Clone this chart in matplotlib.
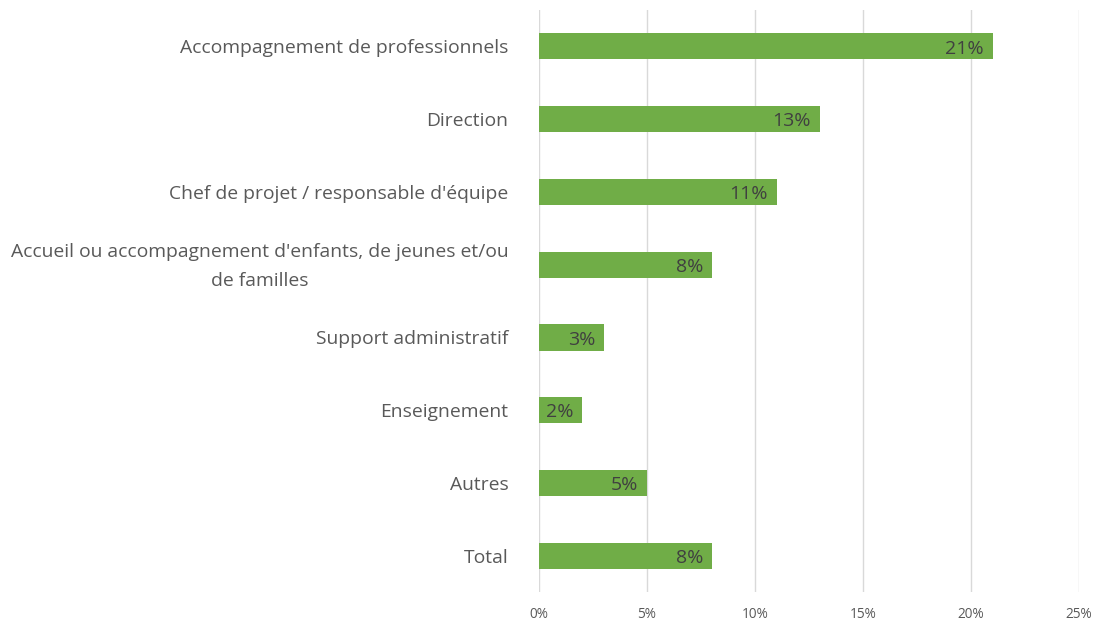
import matplotlib
matplotlib.use("Agg")
import matplotlib.pyplot as plt
from matplotlib.ticker import FuncFormatter
from matplotlib.transforms import ScaledTranslation

categories = [
    "Accompagnement de professionnels",
    "Direction",
    "Chef de projet / responsable d'équipe",
    "Accueil ou accompagnement d'enfants, de jeunes et/ou\nde familles",
    "Support administratif",
    "Enseignement",
    "Autres",
    "Total",
]
values = [21, 13, 11, 8, 3, 2, 5, 8]
xticks = [0, 5, 10, 15, 20, 25]

plt.rcParams['font.family'] = ['Open Sans', 'DejaVu Sans']

fig = plt.figure(figsize=(10.96, 6.22), dpi=100)
ax = fig.add_axes([0.4918, 0.048, 0.4927, 0.936])

y = list(range(len(categories)))
ax.barh(y, values, height=0.36, color='#70AD47', zorder=3)

for yi, v in zip(y, values):
    ax.text(v - 0.4, yi + 0.03, f"{v}%", ha='right', va='center',
            fontsize=14, color='#404040', zorder=4)

ax.set_xlim(0, 25)
ax.set_ylim(len(categories) - 0.5, -0.5)
ax.set_xticks(xticks)
ax.xaxis.set_major_formatter(FuncFormatter(lambda v, p: f"{v:.0f}%"))
ax.set_yticks(y)
ax.set_yticklabels(categories, fontsize=13.9, color='#595959',
                   multialignment='center', linespacing=1.8)
ax.tick_params(axis='x', labelsize=9.8, labelcolor='#595959', length=0, pad=11)
ax.tick_params(axis='y', length=0, pad=22)
ax.grid(axis='x', color='#d9d9d9', linewidth=1, zorder=0)
for s in ax.spines.values():
    s.set_visible(False)

# nudge the two-line label up a little, like the original
for lab in ax.get_yticklabels():
    if "\n" in lab.get_text():
        lab.set_transform(lab.get_transform() + ScaledTranslation(0, 0.06, fig.dpi_scale_trans))

fig.savefig("out.png", dpi=100)
